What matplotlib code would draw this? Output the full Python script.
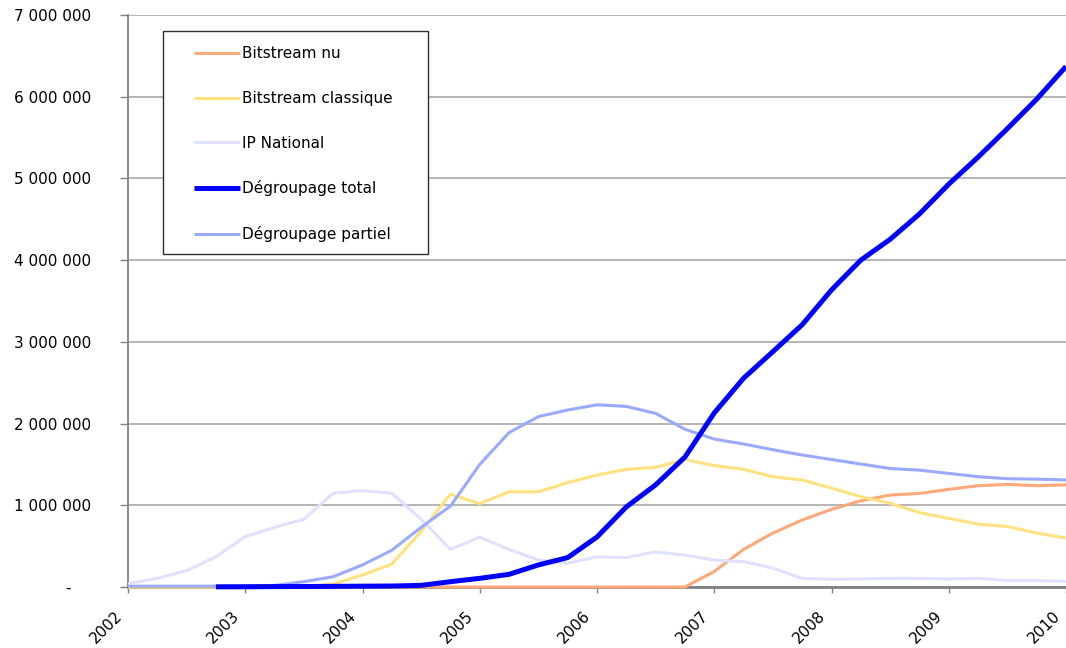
import numpy as np
import matplotlib
matplotlib.use("Agg")
import matplotlib.pyplot as plt
from matplotlib.patches import Rectangle
from matplotlib.transforms import ScaledTranslation

plt.rcParams["font.family"] = ["DejaVu Sans"]

# Quarterly observations, 2002 Q1 through 2010 Q1
quarter = np.arange(2002, 2010.01, 0.25)

bitstream_nu = [
    0, 0, 0, 0, 0, 0, 0, 0, 0, 0, 0, 0, 0, 0, 0, 0, 0, 0, 0, 0,
    190000, 460000, 660000, 820000, 950000, 1055000, 1125000, 1145000,
    1195000, 1240000, 1255000, 1240000, 1250000,
]
bitstream_classique = [
    0, 0, 0, 0, 0, 0, 5000, 35000, 147000, 280000, 680000, 1135000,
    1020000, 1165000, 1165000, 1277000, 1370000, 1440000, 1465000, 1560000,
    1485000, 1440000, 1350000, 1310000, 1210000, 1105000, 1025000, 910000,
    840000, 770000, 740000, 660000, 600000,
]
ip_national = [
    40000, 106000, 200000, 370000, 616000, 730000, 830000, 1147000,
    1180000, 1147000, 830000, 460000, 610000, 460000, 330000, 290000,
    370000, 360000, 430000, 390000, 330000, 310000, 230000, 106000,
    94000, 98000, 106000, 106000, 98000, 106000, 80000, 78000, 70000,
]
degroupage_total = [
    np.nan, np.nan, np.nan, 2000, 3000, 5000, 6000, 8000,
    10000, 12000, 20000, 65000, 106000, 155000, 270000, 360000,
    612000, 980000, 1250000, 1590000, 2130000, 2555000, 2880000, 3210000,
    3635000, 4000000, 4255000, 4565000, 4930000, 5260000, 5610000, 5970000,
    6370000,
]
degroupage_partiel = [
    10000, 10000, 10000, 10000, 10000, 20000, 65000, 126000,
    270000, 450000, 730000, 990000, 1500000, 1890000, 2085000, 2166000,
    2230000, 2210000, 2125000, 1930000, 1810000, 1750000, 1680000, 1615000,
    1560000, 1505000, 1450000, 1430000, 1390000, 1350000, 1325000, 1320000,
    1310000,
]

years = list(range(2002, 2011))
y_ticks = [0, 1000000, 2000000, 3000000, 4000000, 5000000, 6000000, 7000000]

W, H = 1066, 648
fig = plt.figure(figsize=(W / 100, H / 100), dpi=100)
ax = fig.add_axes([128 / W, 1 - 587 / H, (W - 128) / W, (587 - 15) / H])

series = [
    ("Bitstream nu", bitstream_nu, "#FFA878", 2.2, 3),
    ("Bitstream classique", bitstream_classique, "#FFE17F", 2.2, 4),
    ("IP National", ip_national, "#E0E0FF", 2.2, 5),
    ("Dégroupage partiel", degroupage_partiel, "#99AAFF", 2.2, 6),
    ("Dégroupage total", degroupage_total, "#0000FF", 3.6, 7),
]
handles = {}
for name, vals, color, lw, z in series:
    (ln,) = ax.plot(quarter, vals, color=color, lw=lw, zorder=z,
                    solid_joinstyle="round", solid_capstyle="butt",
                    clip_on=False)
    handles[name] = ln

ax.set_xlim(2002, 2010)
ax.set_ylim(0, 7000000)

# Horizontal grid
ax.set_axisbelow(True)
ax.yaxis.grid(True, color="#A8A8A8", lw=1.2)
ax.xaxis.grid(False)

for s in ("top", "right"):
    ax.spines[s].set_visible(False)
ax.spines["left"].set_color("#808080")
ax.spines["left"].set_linewidth(1.3)
ax.spines["bottom"].set_color("#808080")
ax.spines["bottom"].set_linewidth(2.0)
ax.spines["bottom"].set_zorder(1.5)

def fmt(v):
    if v == 0:
        return "-\u2007\u2007"
    return f"{v:,.0f}".replace(",", " ")

ax.set_yticks(y_ticks)
ax.set_yticklabels([fmt(v) for v in y_ticks])
ax.tick_params(axis="y", direction="out", length=5.8, width=1.0,
               color="#808080", pad=21, labelsize=11, labelcolor="black")

# Year labels, rotated and drawn slightly left of each tick
ax.set_xticks(years)
ax.set_xticklabels([])
ax.tick_params(axis="x", direction="out", length=4, width=1.0,
               color="#808080")
shift = ScaledTranslation(-8.5 / 100, -27 / 100, fig.dpi_scale_trans)
for yr in years:
    ax.text(yr, 0, str(yr), transform=ax.get_xaxis_transform() + shift,
            rotation=45, ha="right", va="center", rotation_mode="anchor",
            fontsize=11, color="black", clip_on=False)

# Legend with its own frame
order = ["Bitstream nu", "Bitstream classique", "IP National",
         "Dégroupage total", "Dégroupage partiel"]
frame = Rectangle((163 / W, 1 - 254 / H), (427.5 - 163) / W, (254 - 30.7) / H,
                  transform=fig.transFigure, facecolor="white",
                  edgecolor="#303030", lw=1.0, zorder=8)
fig.add_artist(frame)
leg = fig.legend([handles[n] for n in order], order,
                 loc="upper left",
                 bbox_to_anchor=(194 / W, 1 - 46.5 / H),
                 bbox_transform=fig.transFigure,
                 frameon=False, fontsize=11, handlelength=3.0,
                 handletextpad=0.15, labelspacing=1.94,
                 borderpad=0, borderaxespad=0)
leg.set_zorder(10)

fig.savefig("out.png", dpi=100)
